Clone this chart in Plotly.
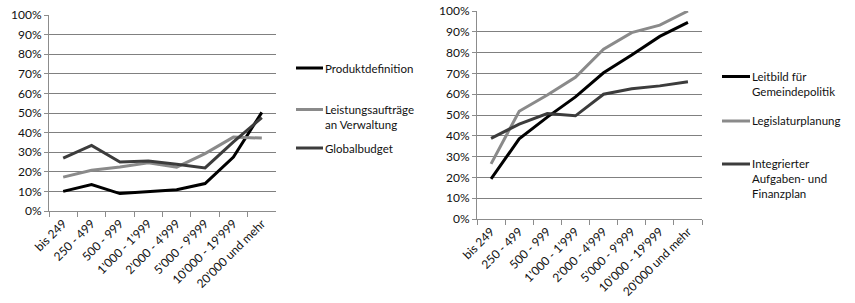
import plotly.graph_objects as go

categories = ["bis 249", "250 - 499", "500 - 999", "1'000 - 1'999", "2'000 - 4'999",
              "5'000 - 9'999", "10'000 - 19'999", "20'000 und mehr"]

# left chart (%)
produktdefinition = [10.0, 13.5, 8.9, 10.0, 10.8, 14.0, 27.5, 50.3]
leistungsauftraege = [17.3, 20.8, 22.5, 24.6, 22.4, 29.3, 37.7, 37.2]
globalbudget = [27.0, 33.5, 25.0, 25.5, 23.8, 22.0, 35.3, 47.6]

# right chart (%)
leitbild = [19.3, 38.5, 49.0, 58.7, 70.3, 78.8, 87.8, 94.5]
legislatur = [26.5, 51.8, 59.6, 68.1, 81.6, 89.6, 93.2, 100.0]
integrierter = [38.8, 45.6, 50.7, 49.6, 60.0, 62.6, 64.0, 66.0]

left_names = ["Produktdefinition", "Leistungsaufträge<br>an Verwaltung", "Globalbudget"]
right_names = ["Leitbild für<br>Gemeindepolitik", "Legislaturplanung",
               "Integrierter<br>Aufgaben- und<br>Finanzplan"]
colors = ["#000000", "#8a8a8a", "#3c3c3c"]

FONT = "Lato"
FS = 12
LFS = 11.5
TXT = "#111111"
W, H = 855, 303

fig = go.Figure()
for vals, name, col in zip([produktdefinition, leistungsauftraege, globalbudget], left_names, colors):
    fig.add_trace(go.Scatter(x=categories, y=vals, mode="lines", name=name,
                             line=dict(color=col, width=3), xaxis="x", yaxis="y",
                             showlegend=False))
for vals, name, col in zip([leitbild, legislatur, integrierter], right_names, colors):
    fig.add_trace(go.Scatter(x=categories, y=vals, mode="lines", name=name,
                             line=dict(color=col, width=3), xaxis="x2", yaxis="y2",
                             showlegend=False))

def px_x(p):
    return p / W

def px_y(p):
    return (H - p) / H

axis_common = dict(showline=True, linecolor="#8c8c8c", linewidth=1, automargin=False,
                   tickfont=dict(family=FONT, size=FS, color=TXT))
xcommon = dict(axis_common, type="category", tickangle=-45, tickson="boundaries",
               ticks="outside", ticklen=5, tickcolor="#8c8c8c", showgrid=False,
               range=[-0.5, 7.5])
ycommon = dict(axis_common, range=[0, 100], dtick=10, ticksuffix="%",
               showgrid=True, gridcolor="#808080", gridwidth=1,
               ticks="outside", ticklen=4, tickcolor="#8c8c8c", zeroline=False)

fig.update_layout(
    width=W, height=H,
    margin=dict(l=0, r=0, t=0, b=0),
    paper_bgcolor="white", plot_bgcolor="white",
    font=dict(family=FONT, size=FS, color=TXT),
    xaxis=dict(xcommon, domain=[px_x(49), px_x(276)], anchor="y"),
    yaxis=dict(ycommon, domain=[px_y(211), px_y(15)], anchor="x"),
    xaxis2=dict(xcommon, domain=[px_x(477), px_x(702)], anchor="y2"),
    yaxis2=dict(ycommon, domain=[px_y(219), px_y(11)], anchor="x2"),
)

# legends drawn as line samples + text
left_leg_y = [68, 117, 148]
right_leg_y = [84, 121, 179]
for names, ys, x0, x1 in [(left_names, left_leg_y, 296, 323), (right_names, right_leg_y, 722, 750)]:
    for name, yc, col in zip(names, ys, colors):
        nlines = name.count("<br>") + 1
        ytop = yc - (nlines - 1) * 7.5
        fig.add_shape(type="line", xref="paper", yref="paper",
                      x0=px_x(x0), x1=px_x(x1), y0=px_y(ytop), y1=px_y(ytop),
                      line=dict(color=col, width=3))
        fig.add_annotation(xref="paper", yref="paper", x=px_x(x1), y=px_y(yc),
                           text=name, showarrow=False, xanchor="left", yanchor="middle",
                           align="left", font=dict(family=FONT, size=LFS, color=TXT))

fig.write_html("out.html", config={"displayModeBar": False},
               post_script="document.body.style.margin='0';document.body.style.overflow='hidden';")
